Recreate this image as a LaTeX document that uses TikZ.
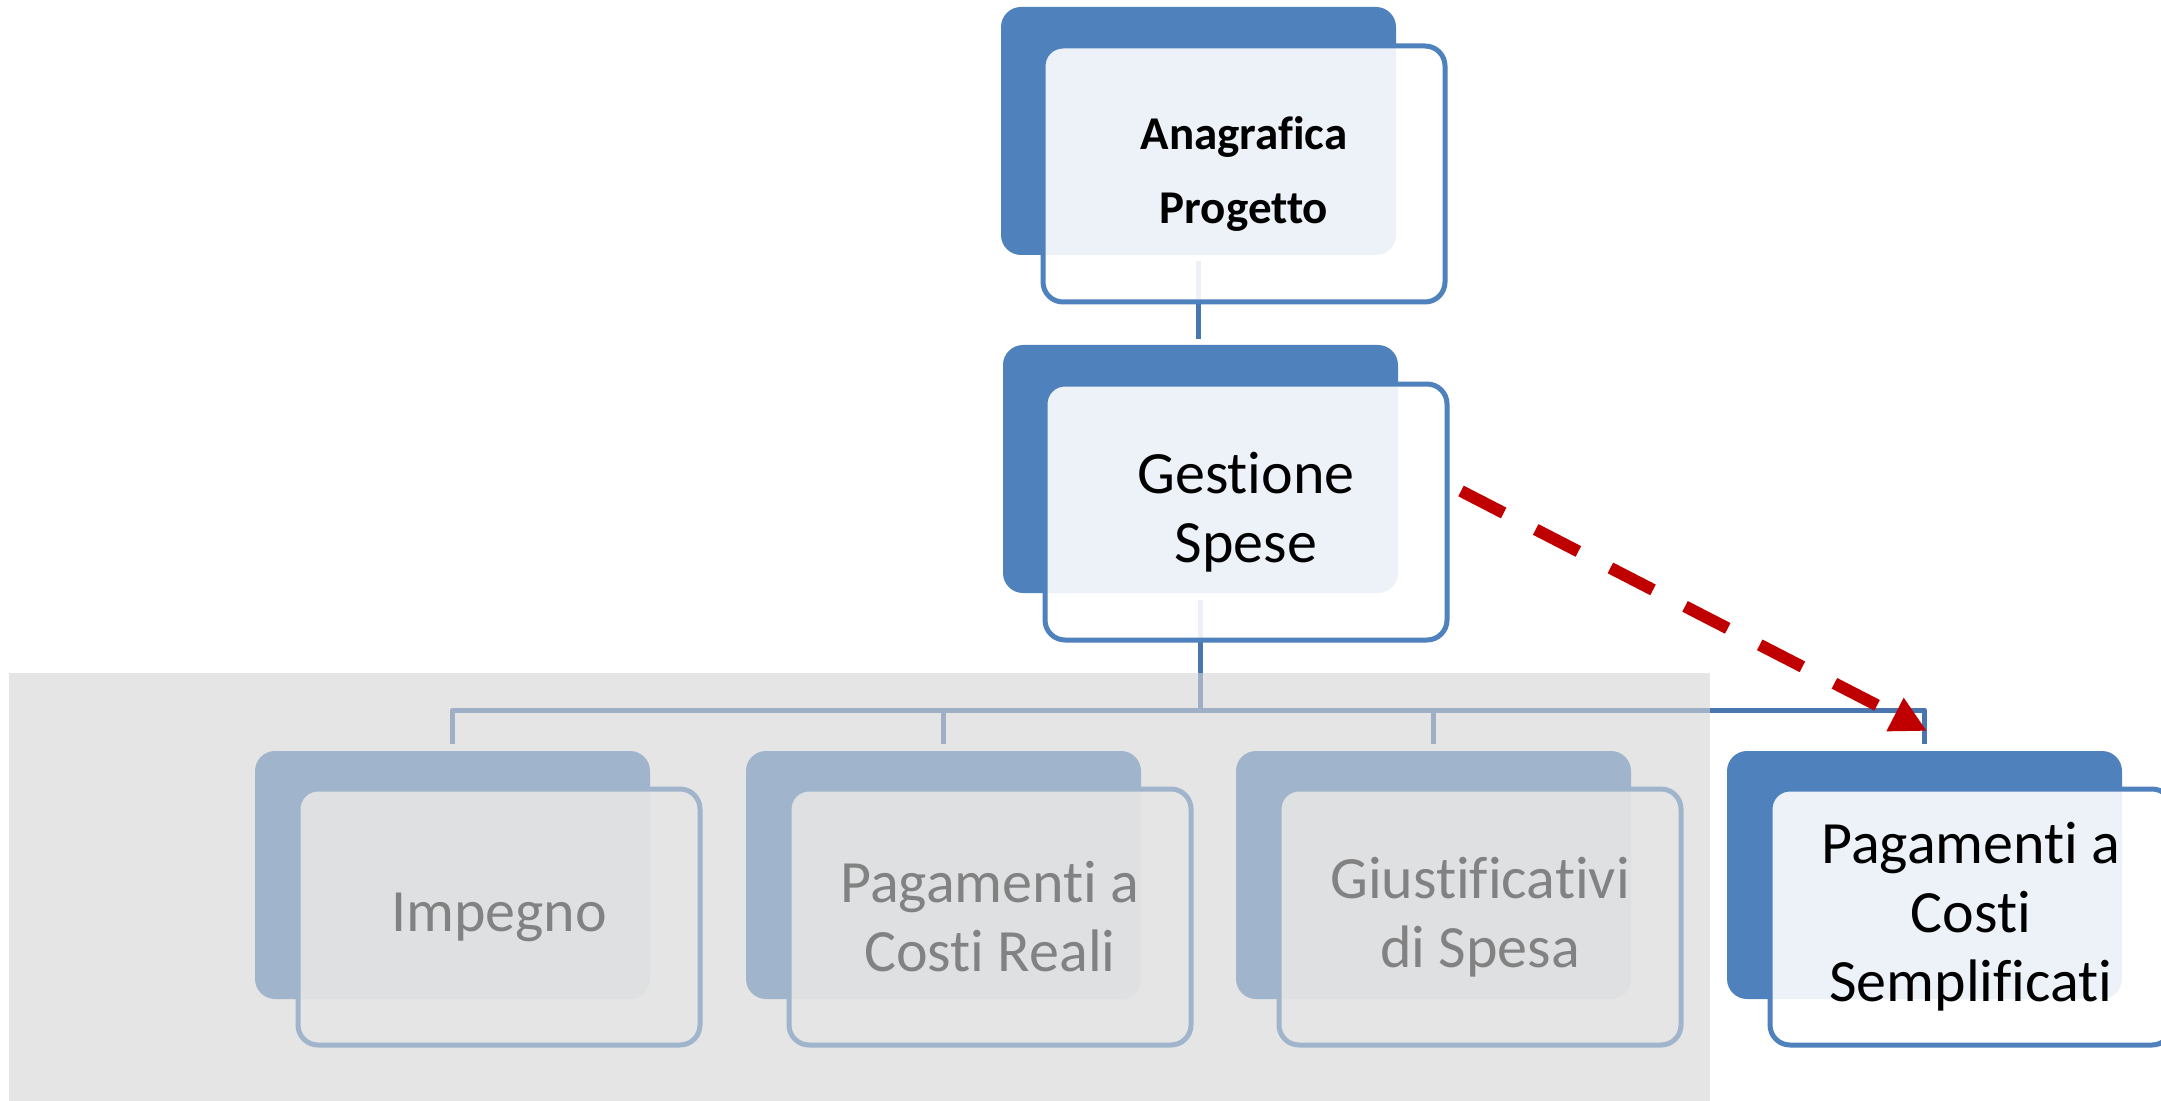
\documentclass[tikz,border=0pt]{standalone}
\usepackage{fontspec}
\setmainfont{Carlito}[RawFeature={-liga}]
\usetikzlibrary{arrows.meta}
\definecolor{accent}{RGB}{79,129,189}
\definecolor{linkcol}{RGB}{74,118,176}
\definecolor{veil}{RGB}{213,213,213}
\definecolor{arrowred}{RGB}{192,0,0}
\begin{document}
\begin{tikzpicture}[x=0.5pt,y=-0.5pt,
  back/.style={fill=accent, rounded corners=10pt, minimum width=197.5pt,
    minimum height=124pt, inner sep=0pt, outer sep=0pt, anchor=north west},
  front/.style={draw=accent, line width=2.5pt, fill=white, fill opacity=0.9,
    text opacity=1, rounded corners=10pt, minimum width=201pt,
    minimum height=128pt, inner sep=0pt, outer sep=0pt, align=center,
    font=\fontsize{30}{34.5}\selectfont},
  link/.style={draw=linkcol, line width=2.5pt},
  jump/.style={draw=arrowred, line width=6pt, dash pattern=on 24pt off 18pt,
    -{Triangle[length=18pt,width=17.5pt]}},
  ]
\useasboundingbox (0,0) rectangle (2161,1101);
\fill[white] (0,0) rectangle (2161,1101);

% back panels
\node[back] (tback) at (1001,7) {};
\node[back] (gback) at (1003,345) {};
\node[back] (b1back) at (255,751) {};
\node[back] (b2back) at (746,751) {};
\node[back] (b3back) at (1236,751) {};
\node[back] (b4back) at (1727,751) {};

% tree connectors (drawn below the front panels)
\coordinate (busy) at (0,710);
\draw[link] ([yshift=-3pt]tback.south) -- ([yshift=3pt]tback.south |- gback.north);
\draw[link] ([yshift=-3.5pt]gback.south) -- (gback.south |- busy);
\draw[link, line join=round] ([yshift=3.5pt]b1back.north) -- (b1back.north |- busy)
  -- (b4back.north |- busy) -- ([yshift=3.5pt]b4back.north);
\foreach \n in {b2back,b3back}
  \draw[link] ([yshift=3.5pt]\n.north) -- (\n.north |- busy);

% front panels with the labels
\node[front, font=\bfseries\fontsize{23.5}{36.8}\selectfont] (tfront) at (1244,174) {Anagrafica\\Progetto};
\node[front] (gfront) at (1246,512) {Gestione\\Spese};
\node[front] (b1front) at (499,917) {Impegno};
\node[front] (b2front) at (990,917) {Pagamenti a\\Costi Reali};
\node[front] (b3front) at (1480,917) {Giustificativi\\di Spesa};
\node[front] (b4front) at (1971,917) {Pagamenti a\\Costi\\Semplificati};

% faded area over the inactive branches
\fill[veil, fill opacity=0.61] (9,673) rectangle (1710,1101);

% dashed jump arrow
\coordinate (jumpstart) at (1461,491);
\coordinate (jumpend) at (1927,731);
\draw[jump] (jumpstart) -- (jumpend);
\end{tikzpicture}
\end{document}
